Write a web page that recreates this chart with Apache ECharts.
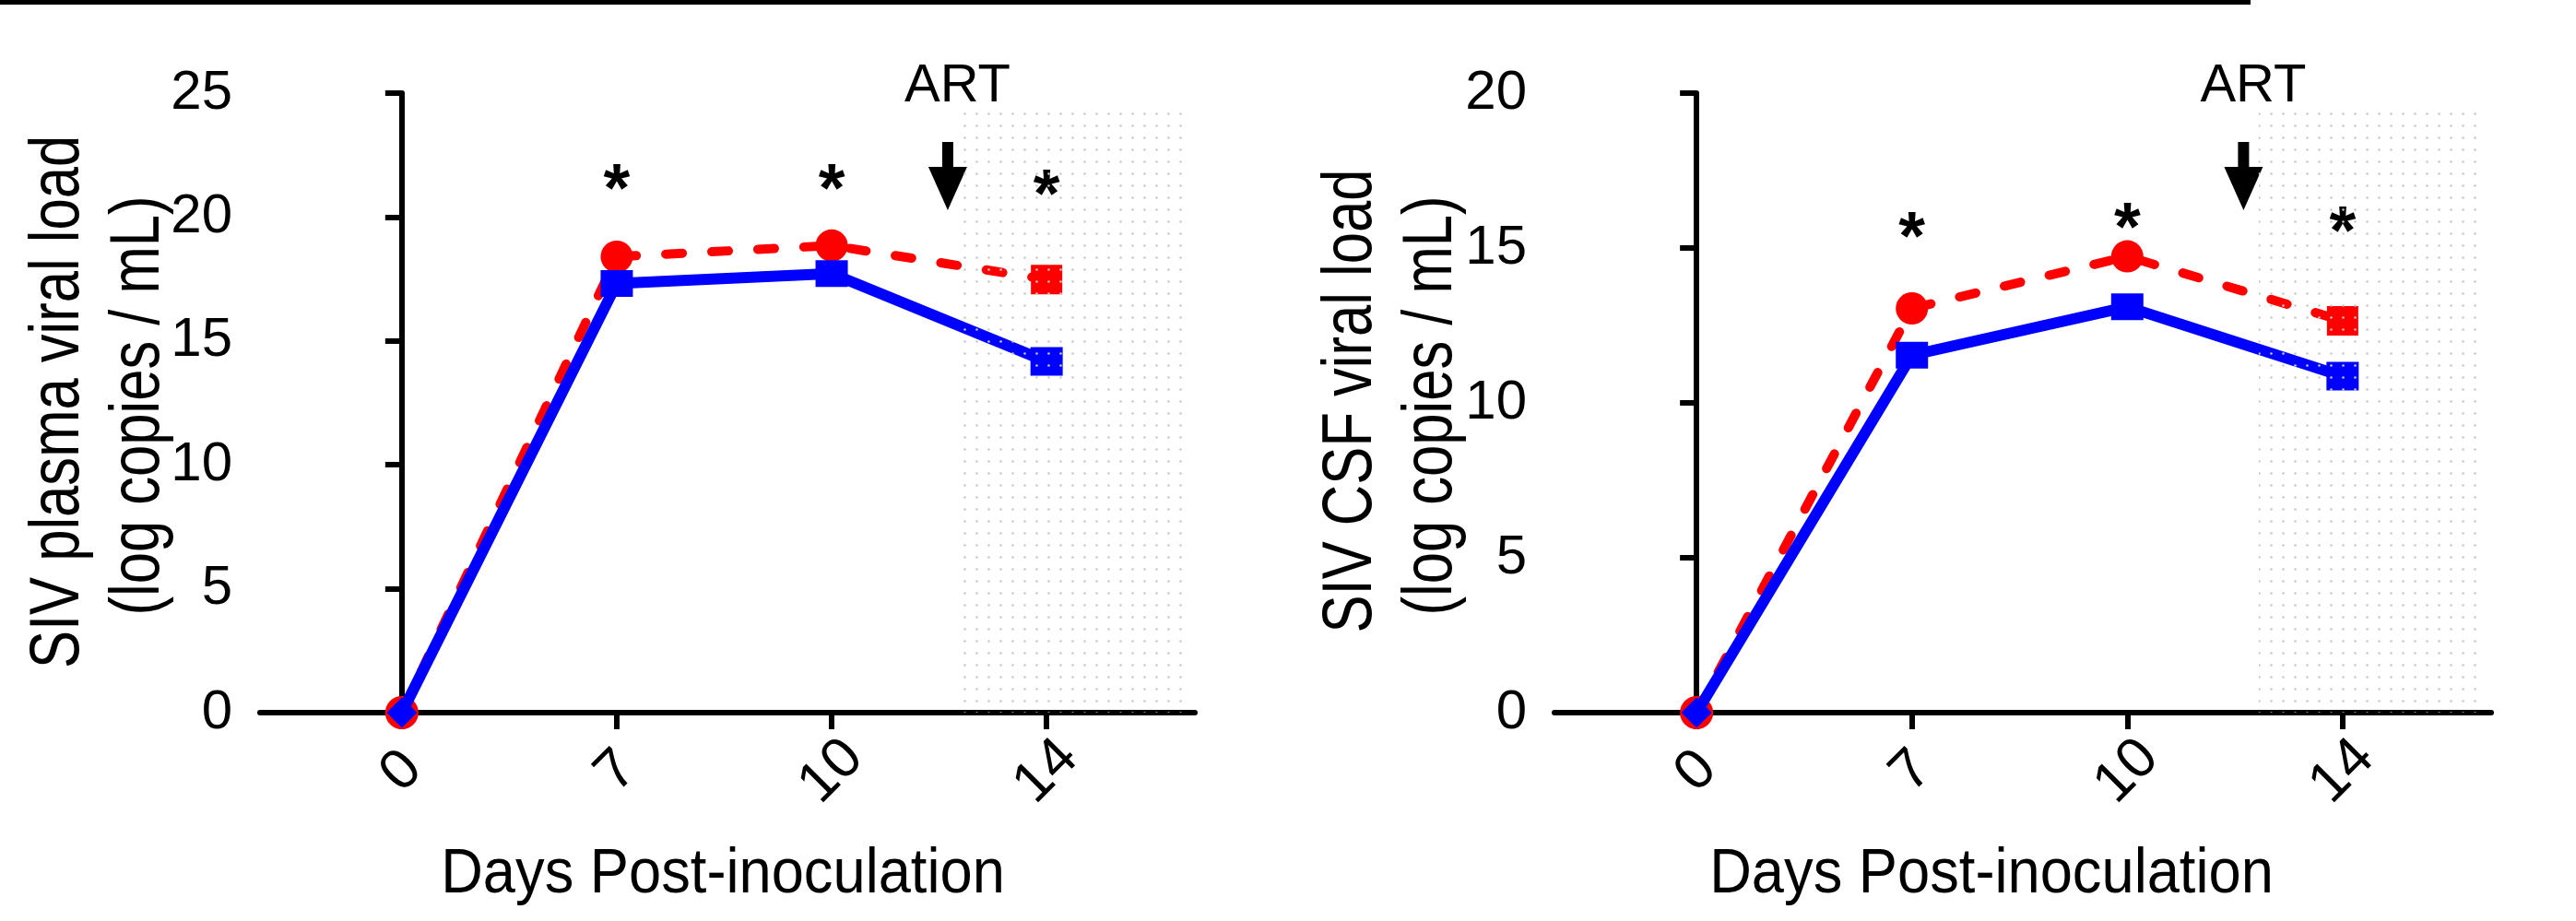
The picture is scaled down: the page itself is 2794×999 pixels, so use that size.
<!DOCTYPE html>
<html><head><meta charset="utf-8">
<script src="https://cdn.jsdelivr.net/npm/echarts@6/dist/echarts.min.js"></script>
<style>html,body{margin:0;padding:0;background:#fff}#c{width:2794px;height:999px}</style>
</head><body><div id="c"></div>
<script>
// ---- data ----
const days = ['0', '7', '10', '14'];
const dayPos = [0, 1, 2, 3];
const plasmaRed = [0, 18.4, 18.85, 17.48];
const plasmaBlue = [0, 17.32, 17.72, 14.17];
const csfRed = [0, 13.05, 14.73, 12.65];
const csfBlue = [0, 11.54, 13.1, 10.86];
const plasmaTicks = [0, 5, 10, 15, 20, 25];
const csfTicks = [0, 5, 10, 15, 20];
const starDays = [1, 2, 3];
const starPlasma = [21.65, 21.65, 21.45];
const starCsf = [15.8, 16.08, 15.95];
const artPos = 2.54;            // ART arrow (axis units)
const artArrowPlasma = 21.65;
const artArrowCsf = 17.32;
const artTextPlasma = 25.25;
const artTextCsf = 20.2;
const shadePlasma = [2.61, 24.55, 3.66, 0];
const shadeCsf = [2.61, 19.64, 3.66, 0];

const FONT = '"Liberation Sans", Arial, Helvetica, sans-serif';
const RED = '#ff0000', BLUE = '#0000ff';

// dotted pattern
const pc = document.createElement('canvas');
pc.width = 13; pc.height = 13;
const pctx = pc.getContext('2d');
pctx.fillStyle = '#c8c8c8';
pctx.beginPath(); pctx.arc(6.5, 6.5, 1.3, 0, Math.PI * 2); pctx.fill();

function zip(xs, ys) { return xs.map((x, i) => [x, ys[i]]); }

function lineData(vals, symbols, sizes) {
  return vals.map((v, i) => ({ value: [dayPos[i], v], symbol: symbols[i], symbolSize: sizes[i] }));
}

function xAxis(gi) {
  return {
    type: 'value', gridIndex: gi, min: -0.66, max: 3.69,
    splitLine: { show: false },
    axisLine: { show: true, onZero: false, lineStyle: { color: '#000', width: 6 } },
    axisTick: { show: true, customValues: dayPos, length: 18, lineStyle: { color: '#000', width: 6 } },
    axisLabel: {
      customValues: dayPos, rotate: 45, margin: 64, color: '#000',
      align: 'center', verticalAlign: 'middle',
      fontSize: 62, fontFamily: FONT,
      formatter: v => days[Math.round(v)]
    }
  };
}
function yAxis(gi, max) {
  return {
    type: 'value', gridIndex: gi, min: 0, max: max, interval: 5,
    splitLine: { show: false },
    axisLine: { show: true, lineStyle: { color: '#000', width: 6 } },
    axisTick: { show: true, length: 18, lineStyle: { color: '#000', width: 6 } },
    axisLabel: { margin: 30, color: '#000', fontSize: 60, fontFamily: FONT }
  };
}

function panelSeries(gi, red, blue, stars, arrowY, textY, shade) {
  return [
    {
      type: 'line', xAxisIndex: gi, yAxisIndex: gi, z: 2,
      data: lineData(red, ['circle', 'circle', 'circle', 'rect'], [36, 35, 35, [34, 32]]),
      lineStyle: { color: RED, width: 10, type: [18, 32], cap: 'round' },
      itemStyle: { color: RED }, animation: false
    },
    {
      type: 'line', xAxisIndex: gi, yAxisIndex: gi, z: 3,
      data: lineData(blue, ['diamond', 'rect', 'rect', 'rect'], [[33, 33], [35, 29], [35, 29], [35, 31]]),
      lineStyle: { color: BLUE, width: 12 },
      itemStyle: { color: BLUE }, animation: false
    },
    {
      type: 'scatter', xAxisIndex: gi, yAxisIndex: gi, z: 4, clip: false, silent: true,
      data: zip(starDays, stars), symbolSize: 1, itemStyle: { color: 'rgba(0,0,0,0)', opacity: 1 },
      label: { show: true, position: 'inside', formatter: '*', color: '#000', opacity: 1, fontSize: 74, fontWeight: 'bold', fontFamily: FONT, offset: [0, 18] },
      animation: false
    },
    {
      type: 'scatter', xAxisIndex: gi, yAxisIndex: gi, z: 4, clip: false, silent: true,
      data: [[artPos, arrowY]],
      symbol: 'path://M15,0 L27,0 L27,27 L42,27 L21,74 L0,27 L15,27 Z',
      symbolSize: [42, 74], itemStyle: { color: '#000', opacity: 1 }, animation: false
    },
    {
      type: 'scatter', xAxisIndex: gi, yAxisIndex: gi, z: 4, clip: false, silent: true,
      data: [[artPos + 0.045, textY]], symbolSize: 1, itemStyle: { color: 'rgba(0,0,0,0)', opacity: 1 },
      label: { show: true, position: 'inside', formatter: 'ART', color: '#000', opacity: 1, fontSize: 58, fontFamily: FONT },
      animation: false
    },
    {
      type: 'custom', xAxisIndex: gi, yAxisIndex: gi, z: 10, silent: true, clip: false,
      data: [shade],
      renderItem: function (params, api) {
        const p1 = api.coord([api.value(0), api.value(1)]);
        const p2 = api.coord([api.value(2), api.value(3)]);
        return {
          type: 'rect',
          shape: { x: p1[0], y: p1[1], width: p2[0] - p1[0], height: p2[1] - p1[1] },
          style: { fill: { image: pc, repeat: 'repeat' } }
        };
      },
      animation: false
    }
  ];
}

const chart = echarts.init(document.getElementById('c'), null, { renderer: 'canvas' });
const titleStyle = (t, size) => ({ text: t, fill: '#000', fontSize: size, fontFamily: FONT, align: 'center', verticalAlign: 'middle' });
chart.setOption({
  backgroundColor: '#fff',
  animation: false,
  grid: [
    { left: 282, top: 101, width: 1014, height: 672 },
    { left: 1686, top: 101, width: 1016, height: 672 }
  ],
  xAxis: [xAxis(0), xAxis(1)],
  yAxis: [yAxis(0, 25), yAxis(1, 20)],
  series: [].concat(
    panelSeries(0, plasmaRed, plasmaBlue, starPlasma, artArrowPlasma, artTextPlasma, shadePlasma),
    panelSeries(1, csfRed, csfBlue, starCsf, artArrowCsf, artTextCsf, shadeCsf)
  ),
  graphic: [
    { type: 'rect', shape: { x: 0, y: 0, width: 2441, height: 5 }, style: { fill: '#000' } },
    { type: 'text', x: 64, y: 436, rotation: Math.PI / 2, scaleX: 0.81, style: titleStyle('SIV plasma viral load', 76) },
    { type: 'text', x: 151, y: 440, rotation: Math.PI / 2, scaleX: 0.81, style: titleStyle('(log copies / mL)', 76) },
    { type: 'text', x: 1466, y: 435, rotation: Math.PI / 2, scaleX: 0.81, style: titleStyle('SIV CSF viral load', 76) },
    { type: 'text', x: 1553, y: 440, rotation: Math.PI / 2, scaleX: 0.81, style: titleStyle('(log copies / mL)', 76) },
    { type: 'text', x: 784, y: 949, scaleX: 0.93, style: titleStyle('Days Post-inoculation', 68) },
    { type: 'text', x: 2160, y: 949, scaleX: 0.93, style: titleStyle('Days Post-inoculation', 68) }
  ]
});
</script>
</body></html>
